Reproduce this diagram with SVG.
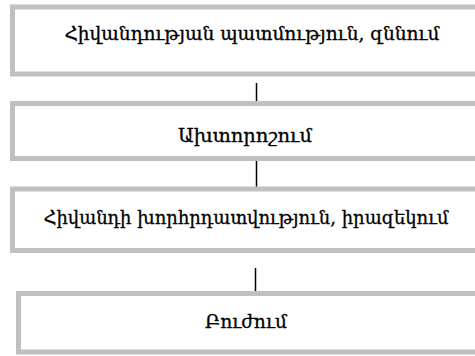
<svg xmlns="http://www.w3.org/2000/svg" width="475" height="356" viewBox="0 0 475 356">
<style>
.box{fill:#ffffff;stroke:#c0c0c0;stroke-width:5}
.lbl{font-family:"DejaVu Serif","Liberation Serif",serif;font-size:18px;fill:#000;stroke:#000;stroke-width:0.3;text-anchor:middle}
.con{stroke:#000;stroke-width:1.5;fill:none}
</style>
<rect width="475" height="356" fill="#ffffff"/>
<g id="connectors">
<line class="con" x1="256.5" y1="83" x2="256.5" y2="103"/>
<line class="con" x1="256.5" y1="159" x2="256.5" y2="189"/>
<line class="con" x1="255.5" y1="268" x2="255.5" y2="292"/>
</g>
<g id="node1">
<rect class="box" x="12.5" y="7" width="470" height="67"/>
<text class="lbl" x="252" y="40" textLength="375" lengthAdjust="spacingAndGlyphs">Հիվանդության պատմություն, զննում</text>
</g>
<g id="node2">
<rect class="box" x="12.5" y="103.5" width="470" height="55"/>
<text class="lbl" x="245" y="142" textLength="134" lengthAdjust="spacingAndGlyphs">Ախտորոշում</text>
</g>
<g id="node3">
<rect class="box" x="12.5" y="189" width="470" height="61.5"/>
<text class="lbl" x="246" y="224" textLength="405" lengthAdjust="spacingAndGlyphs">Հիվանդի խորհրդատվություն, իրազեկում</text>
</g>
<g id="node4">
<rect class="box" x="18.5" y="293.5" width="470" height="58.5"/>
<text class="lbl" x="246" y="328" textLength="82" lengthAdjust="spacingAndGlyphs">Բուժում</text>
</g>
</svg>
